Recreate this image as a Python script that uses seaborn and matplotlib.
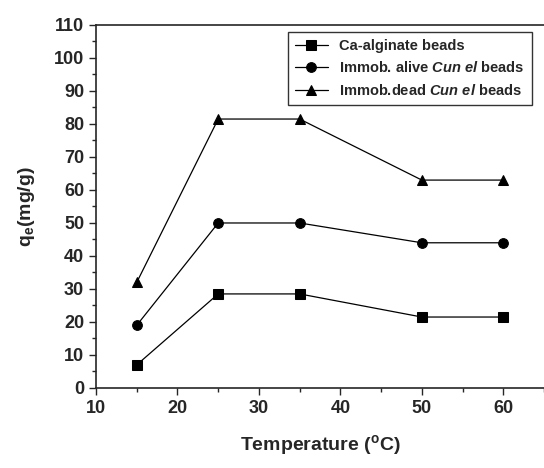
import pandas as pd
import seaborn as sns
import matplotlib
matplotlib.use("Agg")
import matplotlib.pyplot as plt
from matplotlib.ticker import MultipleLocator

temperature = [15, 25, 35, 50, 60]
ca_alginate = [7, 28.5, 28.5, 21.5, 21.5]
immob_alive = [19, 50, 50, 44, 44]
immob_dead = [32, 81.5, 81.5, 63, 63]

labels = ["Ca-alginate beads",
          "Immob. alive $\\mathit{Cun\\ el}$ beads",
          "Immob.dead $\\mathit{Cun\\ el}$ beads"]

df = pd.DataFrame({
    "T": temperature * 3,
    "q": ca_alginate + immob_alive + immob_dead,
    "series": [labels[0]] * 5 + [labels[1]] * 5 + [labels[2]] * 5,
})

sns.set_style("ticks")
plt.rcParams["font.family"] = ["Liberation Sans", "DejaVu Sans"]
plt.rcParams["font.weight"] = "bold"
plt.rcParams["mathtext.fontset"] = "custom"
plt.rcParams["mathtext.rm"] = "Liberation Sans:bold"
plt.rcParams["mathtext.bf"] = "Liberation Sans:bold"
plt.rcParams["mathtext.it"] = "Liberation Sans:italic:bold"

fig = plt.figure(figsize=(5.44, 4.68), dpi=100)
ax = fig.add_axes([0.1765, 0.171, 0.8235, 0.7756])

sns.lineplot(data=df, x="T", y="q", style="series", hue="series",
             palette=["black"] * 3, markers=["s", "o", "^"], dashes=False,
             markersize=7, linewidth=0.9, markeredgecolor="black", ax=ax)

ax.set_xlim(10, 65)
ax.set_ylim(0, 110)
ax.xaxis.set_major_locator(MultipleLocator(10))
ax.xaxis.set_minor_locator(MultipleLocator(5))
ax.yaxis.set_major_locator(MultipleLocator(10))
ax.yaxis.set_minor_locator(MultipleLocator(5))
ax.tick_params(which="major", length=5, width=1, labelsize=13, direction="out")
ax.tick_params(which="minor", length=3, width=1, direction="out")
for lab in ax.get_xticklabels() + ax.get_yticklabels():
    lab.set_fontweight("bold")

for s in ["left", "bottom", "top"]:
    ax.spines[s].set_linewidth(1.2)
ax.spines["right"].set_visible(False)

ax.set_xlabel("Temperature ($^{\\mathrm{o}}$C)", fontsize=14, fontweight="bold", labelpad=12)
ax.set_ylabel("q$_{\\mathrm{e}}$(mg/g)", fontsize=14, fontweight="bold", labelpad=12)

leg = ax.legend(loc="upper right", bbox_to_anchor=(0.973, 0.981), borderaxespad=0,
                frameon=True, fancybox=False, edgecolor="black", fontsize=10.5,
                handlelength=2.2, borderpad=0.5, labelspacing=0.5)
leg.get_frame().set_linewidth(1.0)
for t in leg.get_texts():
    t.set_fontweight("bold")

fig.savefig("out.png", dpi=100)
